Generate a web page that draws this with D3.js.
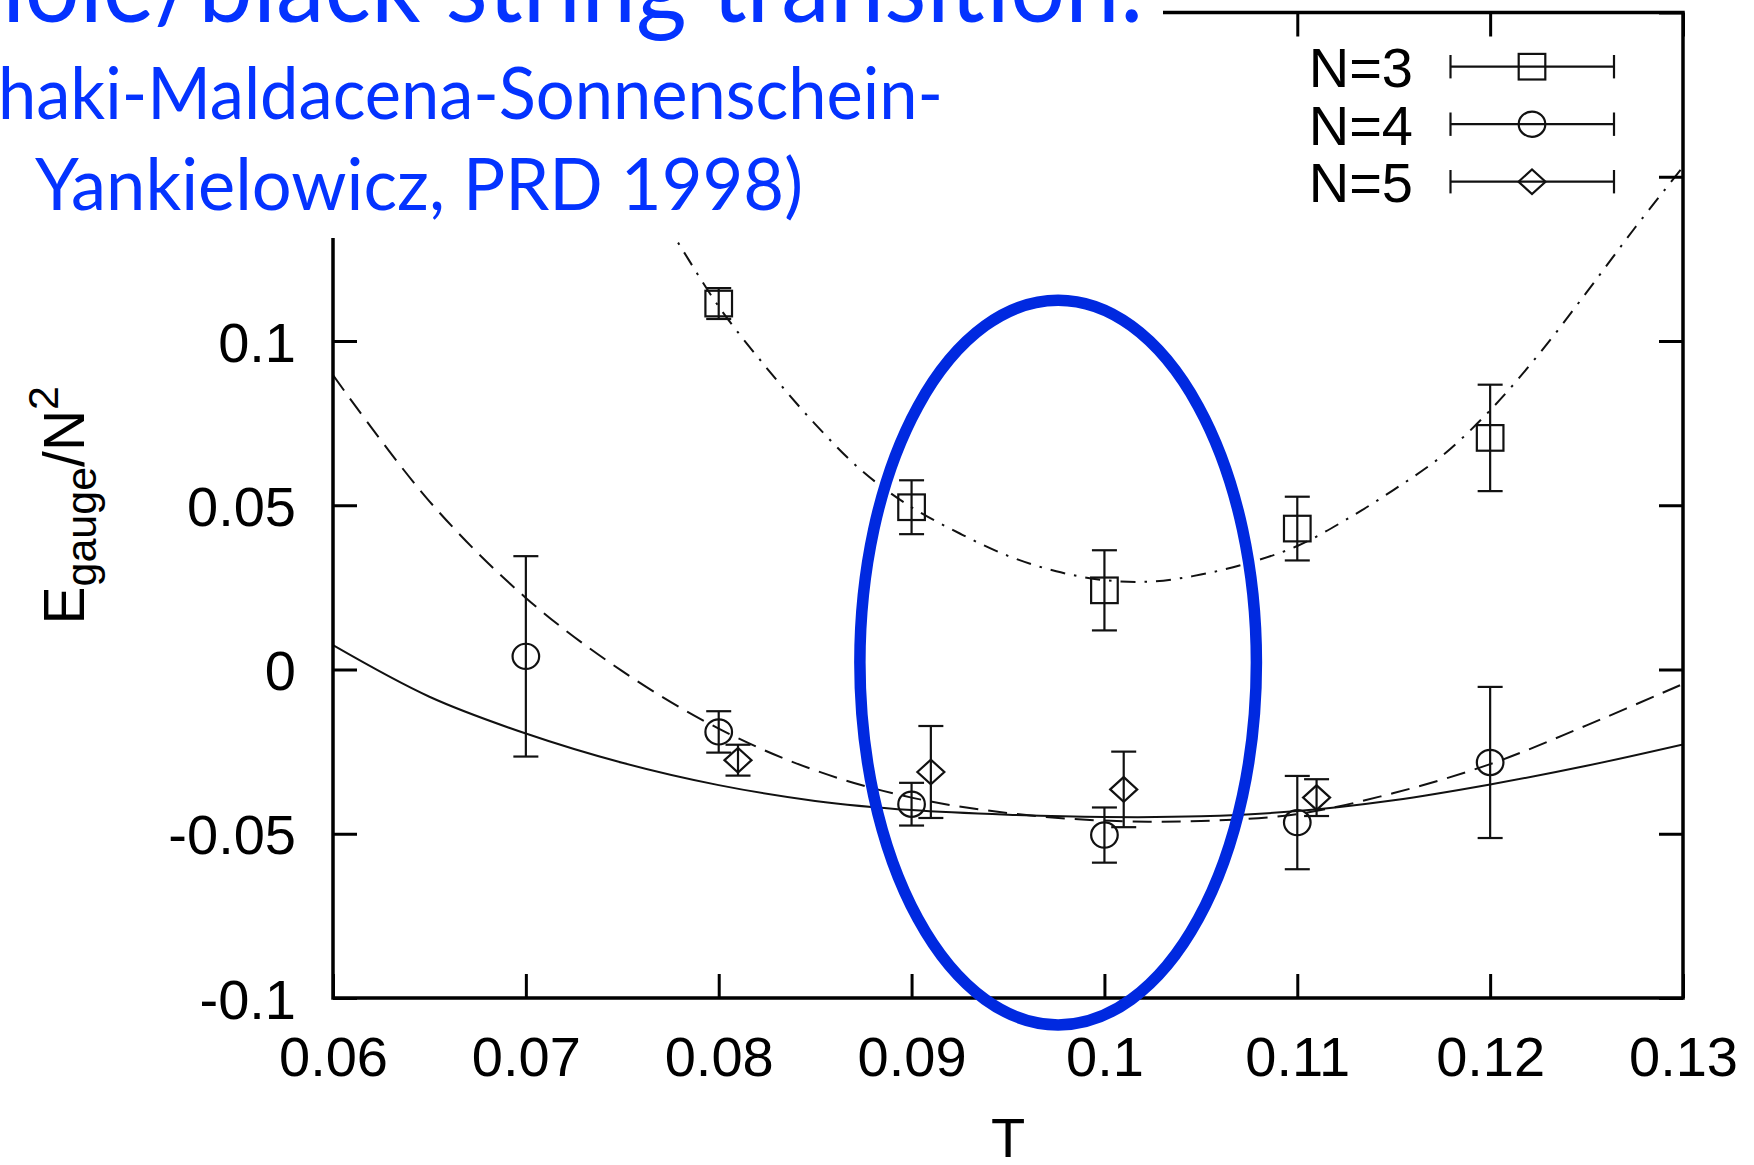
<!DOCTYPE html>
<html>
<head>
<meta charset="utf-8">
<script src="https://cdn.jsdelivr.net/npm/d3@7"></script>
<style>
  html, body { margin: 0; padding: 0; background: #fff; }
  svg { display: block; }
</style>
</head>
<body>
<script>
// ---- Measured gauge energy per N^2 (with one-sigma errors) ----
const T_N3   = [0.08, 0.09, 0.10, 0.11, 0.12];
const E_N3   = [0.1114, 0.0494, 0.0241, 0.0429, 0.0705];
const ERR_N3 = [0.0047, 0.0082, 0.0122, 0.0097, 0.0162];

const T_N4   = [0.07, 0.08, 0.09, 0.10, 0.11, 0.12];
const E_N4   = [0.0040, -0.0190, -0.0410, -0.0504, -0.0466, -0.0283];
const ERR_N4 = [0.0305, 0.0063, 0.0065, 0.0084, 0.0142, 0.0230];

const T_N5   = [0.081, 0.091, 0.101, 0.111];
const E_N5   = [-0.0276, -0.0312, -0.0365, -0.0390];
const ERR_N5 = [0.0047, 0.0140, 0.0115, 0.0056];

// ---- Fit curves, sampled along T ----
const FIT_T  = [0.06, 0.065, 0.07, 0.075, 0.08, 0.085, 0.09, 0.095, 0.10, 0.105, 0.11, 0.115, 0.12, 0.125, 0.13];
const FIT_N4 = [0.0896, 0.0512, 0.0218, -0.0005, -0.0180, -0.0307, -0.0390, -0.0437, -0.0460, -0.0461, -0.0440, -0.0376, -0.0288, -0.0170, -0.0044];
const FIT_N5 = [0.0074, -0.0083, -0.0195, -0.0284, -0.0352, -0.0400, -0.0428, -0.0442, -0.0449, -0.0447, -0.0431, -0.0398, -0.0350, -0.0293, -0.0228];

const FIT_N3_T = [0.0772, 0.0777, 0.080, 0.0825, 0.085, 0.0875, 0.090, 0.0925, 0.095, 0.0975, 0.100, 0.1025, 0.105, 0.1075, 0.110, 0.1125, 0.115, 0.1175, 0.120, 0.1225, 0.125, 0.1275, 0.130];
const FIT_N3   = [0.1360, 0.1317, 0.1105, 0.0917, 0.0747, 0.0601, 0.0494, 0.0414, 0.0346, 0.0299, 0.0272, 0.0268, 0.0289, 0.0325, 0.0376, 0.0455, 0.0547, 0.0650, 0.0789, 0.0958, 0.1148, 0.1344, 0.1530];

// ---- Axes ----
const X_TICKS  = [0.06, 0.07, 0.08, 0.09, 0.10, 0.11, 0.12, 0.13];
const X_LABELS = ["0.06", "0.07", "0.08", "0.09", "0.1", "0.11", "0.12", "0.13"];
const Y_TICKS  = [-0.1, -0.05, 0, 0.05, 0.1, 0.15, 0.2];
// upper two ticks sit under the slide text, so they carry no label
const Y_LABELS = ["-0.1", "-0.05", "0", "0.05", "0.1", "", ""];

const LEGEND_LABELS = ["N=3", "N=4", "N=5"];

// Highlight ring around the transition region (centre and half-widths in data units)
const RING_CENTER = [0.0976, 0.0021];
const RING_HALF   = [0.01028, 0.1103];

// Slide text lines laid over the figure
const SLIDE_LINES = [
  "hole/black string transition:",
  "haki-Maldacena-Sonnenschein-",
  "Yankielowicz, PRD 1998)"
];

const W = 1754, H = 1165;
const AXIS_FONT = "'Liberation Sans', Arial, Helvetica, sans-serif";
const INK = "#111";

const x = d3.scaleLinear().domain([0.06, 0.13]).range([333, 1683]);
const y = d3.scaleLinear().domain([-0.1, 0.2]).range([998, 12.5]);

const svg = d3.select("body").append("svg")
  .attr("width", W).attr("height", H)
  .attr("viewBox", `0 0 ${W} ${H}`);

svg.append("rect").attr("width", W).attr("height", H).attr("fill", "#fff");

const [x0, x1] = x.range();
const [yb, yt] = y.range();

svg.append("defs").append("clipPath").attr("id", "plot-clip")
  .append("rect")
  .attr("x", x0).attr("y", yt)
  .attr("width", x1 - x0).attr("height", yb - yt);

// ---- Fit curves ----
const curve = d3.line()
  .x(d => x(d[0])).y(d => y(d[1]))
  .curve(d3.curveCatmullRom.alpha(0.5));

const fits = svg.append("g").attr("clip-path", "url(#plot-clip)")
  .attr("fill", "none").attr("stroke", INK).attr("stroke-width", 2);

fits.append("path").datum(d3.zip(FIT_T, FIT_N5)).attr("d", curve);
fits.append("path").datum(d3.zip(FIT_T, FIT_N4)).attr("d", curve)
  .attr("stroke-dasharray", "19,10");
fits.append("path").datum(d3.zip(FIT_N3_T, FIT_N3)).attr("d", curve)
  .attr("stroke-dasharray", "15,9,2.5,9");

// ---- Axes: ticks point inward on all four sides ----
function styleAxis(g) {
  g.select(".domain").remove();
  g.selectAll(".tick line").attr("stroke", "#000").attr("stroke-width", 3);
  g.selectAll(".tick text")
    .attr("fill", "#000")
    .style("font-family", AXIS_FONT)
    .style("font-size", "56px");
}

svg.append("g")
  .attr("transform", `translate(0,${yb})`)
  .call(d3.axisBottom(x).tickValues(X_TICKS)
    .tickFormat((d, i) => X_LABELS[i])
    .tickSizeInner(-24).tickSizeOuter(0).tickPadding(38))
  .call(styleAxis);

svg.append("g")
  .attr("transform", `translate(${x0},0)`)
  .call(d3.axisLeft(y).tickValues(Y_TICKS)
    .tickFormat((d, i) => Y_LABELS[i])
    .tickSizeInner(-24).tickSizeOuter(0).tickPadding(37))
  .call(styleAxis)
  .call(g => g.selectAll(".tick text").attr("dy", "0.36em"));

svg.append("g")
  .attr("transform", `translate(0,${yt})`)
  .call(d3.axisTop(x).tickValues(X_TICKS).tickFormat(() => "")
    .tickSizeInner(-24).tickSizeOuter(0))
  .call(styleAxis);

svg.append("g")
  .attr("transform", `translate(${x1},0)`)
  .call(d3.axisRight(y).tickValues(Y_TICKS).tickFormat(() => "")
    .tickSizeInner(-24).tickSizeOuter(0))
  .call(styleAxis);

svg.append("rect")
  .attr("x", x0).attr("y", yt)
  .attr("width", x1 - x0).attr("height", yb - yt)
  .attr("fill", "none").attr("stroke", "#000").attr("stroke-width", 3.5);

// ---- Point markers ----
const CAP = 12.5;
const markers = {
  square:  (g, cx, cy) => g.append("rect").attr("x", cx - 13.3).attr("y", cy - 12.8).attr("width", 26.6).attr("height", 25.6),
  circle:  (g, cx, cy) => g.append("ellipse").attr("cx", cx).attr("cy", cy).attr("rx", 13.3).attr("ry", 12.6),
  diamond: (g, cx, cy) => g.append("path").attr("d", `M${cx - 13.5},${cy}L${cx},${cy - 12.3}L${cx + 13.5},${cy}L${cx},${cy + 12.3}Z`)
};

function drawSeries(Ts, Es, errs, shape) {
  const g = svg.append("g").attr("fill", "none").attr("stroke", INK).attr("stroke-width", 2.2);
  Ts.forEach((t, i) => {
    const cx = x(t), cy = y(Es[i]);
    const ylo = y(Es[i] - errs[i]), yhi = y(Es[i] + errs[i]);
    g.append("line").attr("x1", cx).attr("x2", cx).attr("y1", ylo).attr("y2", yhi);
    g.append("line").attr("x1", cx - CAP).attr("x2", cx + CAP).attr("y1", ylo).attr("y2", ylo);
    g.append("line").attr("x1", cx - CAP).attr("x2", cx + CAP).attr("y1", yhi).attr("y2", yhi);
    markers[shape](g, cx, cy);
  });
}

drawSeries(T_N3, E_N3, ERR_N3, "square");
drawSeries(T_N4, E_N4, ERR_N4, "circle");
drawSeries(T_N5, E_N5, ERR_N5, "diamond");

// ---- Legend ----
const shapes = ["square", "circle", "diamond"];
const legend = svg.append("g");
LEGEND_LABELS.forEach((lab, i) => {
  const ly = 66.7 + i * 57.5;
  legend.append("text")
    .attr("x", 1413).attr("y", ly + 20.5)
    .attr("text-anchor", "end")
    .style("font-family", AXIS_FONT).style("font-size", "56px")
    .attr("fill", "#000")
    .text(lab);
  const g = legend.append("g").attr("fill", "none").attr("stroke", INK).attr("stroke-width", 2.2);
  g.append("line").attr("x1", 1450.5).attr("x2", 1614).attr("y1", ly).attr("y2", ly);
  g.append("line").attr("x1", 1450.5).attr("x2", 1450.5).attr("y1", ly - 11.7).attr("y2", ly + 11.7);
  g.append("line").attr("x1", 1614).attr("x2", 1614).attr("y1", ly - 11.7).attr("y2", ly + 11.7);
  markers[shapes[i]](g, 1532, ly);
});

// ---- Axis titles ----
svg.append("text")
  .attr("x", (x0 + x1) / 2).attr("y", 1157)
  .attr("text-anchor", "middle")
  .style("font-family", AXIS_FONT).style("font-size", "56px")
  .attr("fill", "#000")
  .text("T");

const yTitle = svg.append("text")
  .attr("transform", `translate(84,${(yt + yb) / 2}) rotate(-90)`)
  .attr("text-anchor", "middle")
  .style("font-family", AXIS_FONT).style("font-size", "57px")
  .attr("fill", "#000");
yTitle.append("tspan").text("E");
yTitle.append("tspan").attr("dy", 12).style("font-size", "43px").text("gauge");
yTitle.append("tspan").attr("dy", -12).text("/N");
yTitle.append("tspan").attr("dy", -26).style("font-size", "43px").text("2");

// ---- Highlight ring ----
svg.append("ellipse")
  .attr("cx", x(RING_CENTER[0])).attr("cy", y(RING_CENTER[1]))
  .attr("rx", x(RING_CENTER[0] + RING_HALF[0]) - x(RING_CENTER[0]))
  .attr("ry", y(RING_CENTER[1]) - y(RING_CENTER[1] + RING_HALF[1]))
  .attr("fill", "none").attr("stroke", "#0029e0").attr("stroke-width", 11.5);

// ---- Slide text on white backing ----
svg.append("rect").attr("x", 0).attr("y", 0).attr("width", 1163).attr("height", 48).attr("fill", "#fff");
svg.append("rect").attr("x", 0).attr("y", 0).attr("width", 960).attr("height", 238).attr("fill", "#fff");

const SLIDE_FONT = "Lato, 'Open Sans', sans-serif";
const slide = svg.append("g").attr("fill", "#0433ff").style("font-family", SLIDE_FONT);
slide.append("text").attr("x", -30).attr("y", 22)
  .style("font-size", "104px")
  .attr("textLength", 1174).attr("lengthAdjust", "spacingAndGlyphs")
  .text(SLIDE_LINES[0]);
slide.append("text").attr("x", -2).attr("y", 119)
  .style("font-size", "72px")
  .attr("textLength", 945).attr("lengthAdjust", "spacingAndGlyphs")
  .text(SLIDE_LINES[1]);
slide.append("text").attr("x", 35).attr("y", 210)
  .style("font-size", "72px")
  .attr("textLength", 768).attr("lengthAdjust", "spacingAndGlyphs")
  .text(SLIDE_LINES[2]);
</script>
</body>
</html>
